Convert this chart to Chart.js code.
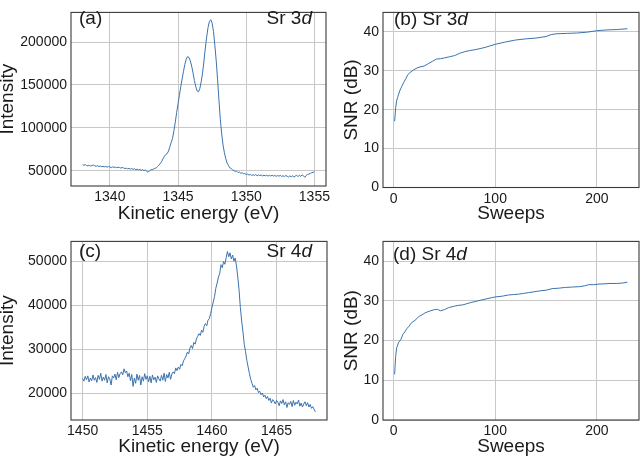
<!DOCTYPE html>
<html><head><meta charset="utf-8">
<script src="https://cdn.jsdelivr.net/npm/chart.js@4.4.1/dist/chart.umd.min.js"></script>
<style>
html,body{margin:0;padding:0;background:#fff;width:640px;height:458px;overflow:hidden;}
canvas{position:absolute;}
</style></head><body>
<canvas id="ca" width="340" height="229" style="left:0;top:0"></canvas>
<canvas id="cb" width="296" height="229" style="left:344px;top:0"></canvas>
<canvas id="cc" width="340" height="229" style="left:0;top:229px"></canvas>
<canvas id="cd" width="296" height="229" style="left:344px;top:229px"></canvas>
<script>
// ---------- data ----------
// (a) Sr 3d spectrum: kinetic energy from 1338.0 eV in 0.1 eV steps, intensity in thousands of counts
const energyStartA = 1338.0, energyStepA = 0.1;
const intensityA_k = [
 57.0,56.5,57.2,56.0,55.8,56.4,55.5,56.2,56.6,55.7,
 55.3,55.9,55.0,55.6,54.8,55.2,54.6,55.1,54.3,54.9,
 54.5,53.8,54.6,54.0,54.3,53.6,54.2,53.9,53.2,53.8,
 53.4,52.6,53.1,52.3,52.8,51.9,52.6,51.6,52.4,51.2,
 52.0,51.0,51.7,50.6,51.4,50.2,50.9,49.6,48.3,50.0,
 51.0,51.5,52.0,52.8,53.5,55.0,56.5,58.5,61.0,64.0,
 67.0,69.0,70.0,73.0,78.0,83.0,88.0,97.0,107.0,118.0,
 128.0,138.0,148.0,157.0,166.0,174.0,180.0,183.0,182.0,178.0,
 172.0,164.0,155.0,148.0,143.0,142.0,146.0,154.0,164.0,178.0,
 193.0,206.0,217.0,224.0,226.0,222.0,212.0,196.0,178.0,156.0,
 132.0,110.0,93.0,80.0,71.0,64.0,59.0,56.0,53.5,52.5,
 51.0,50.5,49.0,49.6,48.0,48.5,47.2,47.8,46.5,47.0,
 45.5,46.2,45.0,45.8,44.6,45.4,44.8,45.6,44.3,45.2,
 44.5,45.0,44.0,44.8,44.2,44.9,43.8,44.6,44.0,44.7,
 43.9,44.5,43.6,44.4,43.8,44.6,43.5,44.2,43.4,44.5,
 43.7,42.8,44.1,43.0,44.3,42.6,43.9,44.8,43.2,45.0,
 43.5,45.3,44.0,42.5,44.6,45.8,46.2,47.0,47.8,48.2,
 49.0
];
// (c) Sr 4d spectrum: kinetic energy from 1450.0 eV in 0.1 eV steps, intensity in thousands of counts
const energyStartC = 1450.0, energyStepC = 0.1;
const intensityC_k = [
 23.4,22.8,23.9,23.1,24.0,22.6,23.5,22.9,24.2,23.0,
 23.6,22.5,24.1,23.2,24.6,22.8,23.7,23.0,24.3,22.4,
 23.8,23.3,21.9,24.0,23.5,24.4,23.1,24.8,23.6,24.5,
 24.9,24.2,25.6,24.7,25.1,23.8,24.6,22.9,24.3,21.6,
 23.5,22.3,24.4,23.0,24.1,21.9,23.8,22.8,24.5,23.2,
 24.0,22.6,23.9,22.4,24.2,23.1,23.7,22.5,24.0,23.3,
 22.8,24.1,23.0,24.6,22.7,24.3,23.5,24.8,23.2,24.4,
 24.9,24.5,25.8,25.2,26.0,25.5,26.6,26.3,27.4,27.9,
 28.5,29.4,29.0,30.3,30.9,30.2,31.6,31.2,32.4,33.0,
 33.6,33.2,34.4,33.9,35.3,35.9,35.4,36.7,37.0,38.2,
 39.5,40.8,42.0,43.9,45.1,46.5,47.2,49.3,48.6,50.0,
 49.4,50.9,52.3,51.1,52.0,50.6,51.5,50.1,50.8,49.0,
 46.5,43.5,39.5,36.5,34.0,31.2,29.5,27.5,26.0,24.5,
 23.2,22.3,21.4,21.8,20.8,21.2,20.2,20.5,19.7,20.1,
 19.2,19.6,18.8,19.3,18.4,18.9,17.8,18.6,18.2,17.6,
 18.4,18.0,17.2,18.3,17.7,18.6,17.4,18.1,16.8,17.9,
 17.5,18.2,17.0,18.4,17.3,18.0,17.6,18.5,17.1,17.8,
 16.9,17.6,18.1,17.2,17.9,16.9,17.5,16.6,17.0,16.4,
 15.8
];
// (b) Sr 3d SNR vs sweeps
const sweepsB = [1,2,3,4,5,6,8,10,12,14,16,18,20,23,26,30,34,38,42,46,50,55,60,65,70,75,80,90,100,110,120,130,140,150,155,160,170,180,190,200,210,220,230];
const snrB    = [17.0,20.5,22.3,23.2,24.0,24.8,26.0,27.0,28.0,29.0,29.5,29.9,30.3,30.7,31.0,31.2,31.8,32.4,33.0,33.1,33.3,33.6,33.9,34.5,34.9,35.2,35.4,36.0,36.8,37.4,37.9,38.2,38.4,38.8,39.3,39.5,39.6,39.7,39.9,40.3,40.5,40.6,40.8];
// (d) Sr 4d SNR vs sweeps
const sweepsD = [1,2,3,5,7,9,11,13,15,18,21,25,28,31,35,40,43,46,50,54,60,64,68,72,76,81,86,91,96,100,107,113,118,123,128,133,138,143,150,156,162,169,176,183,188,192,197,202,207,212,219,225,230];
const snrD    = [11.5,16.0,18.2,19.6,20.2,21.5,22.2,23.0,23.6,24.6,25.1,26.1,26.5,27.0,27.4,27.8,27.9,27.5,27.8,28.3,28.7,28.9,29.0,29.3,29.6,29.9,30.2,30.5,30.8,31.0,31.2,31.5,31.6,31.7,31.9,32.1,32.3,32.5,32.7,33.1,33.2,33.4,33.5,33.6,33.8,34.1,34.1,34.25,34.3,34.4,34.4,34.5,34.7];
// tick labels
const ticksAx = [1340,1345,1350,1355];
const ticksAy = [50000,100000,150000,200000];
const ticksCx = [1450,1455,1460,1465];
const ticksCy = [20000,30000,40000,50000];
const ticksSweeps = [0,100,200];
const ticksSnr = [0,10,20,30,40];

// ---------- style ----------
const FONT = "'Liberation Sans', Arial, Helvetica, sans-serif";
const TEXT = '#1a1a1a';
const LINE = '#3b73ad';
const GRID = '#c8c8c8';
const SPINE = '#3a3a3a';

function spectrum(start, step, valsK){
  return valsK.map((v,i)=>({x: +(start + i*step).toFixed(2), y: v*1000}));
}
function pairs(xs, ys){ return xs.map((x,i)=>({x:x, y:ys[i]})); }

const framePlugin = {
  id:'frame',
  afterDatasetsDraw(chart){
    const {ctx, chartArea:a} = chart;
    ctx.save();
    ctx.strokeStyle = SPINE; ctx.lineWidth = 1.1;
    ctx.strokeRect(a.left, a.top, a.right-a.left, a.bottom-a.top);
    ctx.restore();
  }
};
const labelPlugin = {
  id:'panelLabels',
  afterDraw(chart, args, opts){
    const ctx = chart.ctx;
    ctx.save();
    ctx.fillStyle = TEXT;
    ctx.textBaseline = 'alphabetic';
    ctx.textAlign = 'left';
    (opts.items||[]).forEach(it=>{
      const fonts = it.parts.map(p=> (p[1]?'italic ':'') + '19px ' + FONT);
      let w = 0;
      it.parts.forEach((p,i)=>{ ctx.font = fonts[i]; w += ctx.measureText(p[0]).width; });
      let x = it.align === 'right' ? it.x - w : it.x;
      it.parts.forEach((p,i)=>{ ctx.font = fonts[i]; ctx.fillText(p[0], x, it.y); x += ctx.measureText(p[0]).width; });
    });
    ctx.restore();
  }
};

function makeChart(id, c){
  return new Chart(document.getElementById(id), {
    type:'line',
    data:{datasets:[{data:c.points, borderColor:LINE, borderWidth:1, pointRadius:0, tension:0, fill:false}]},
    options:{
      responsive:false, animation:false, events:[],
      layout:{padding:{left:0, right:c.padR, top:c.padT, bottom:0}},
      plugins:{legend:{display:false}, tooltip:{enabled:false}, panelLabels:{items:c.items}},
      scales:{
        x:{type:'linear', min:c.xMin, max:c.xMax,
          afterBuildTicks:s=>{ s.ticks = c.xTicks.map(v=>({value:v})); },
          afterFit:s=>{ s.height = c.xH; },
          grid:{color:GRID, lineWidth:1, drawTicks:false}, border:{display:false},
          ticks:{padding:3, color:TEXT, font:{family:FONT, size:14}, autoSkip:false, maxRotation:0, callback:v=>String(v)},
          title:{display:true, text:c.xTitle, color:TEXT, font:{family:FONT, size:19, lineHeight:1.2}, padding:{top:0, bottom:c.xTitlePad}}
        },
        y:{type:'linear', min:c.yMin, max:c.yMax,
          afterBuildTicks:s=>{ s.ticks = c.yTicks.map(v=>({value:v})); },
          afterFit:s=>{ s.width = c.yW; },
          grid:{color:GRID, lineWidth:1, drawTicks:false}, border:{display:false},
          ticks:{padding:4, color:TEXT, font:{family:FONT, size:14}, autoSkip:false, callback:v=>String(v)},
          title:{display:true, text:c.yTitle, color:TEXT, font:{family:FONT, size:19, lineHeight:0.85}, padding:{top:0, bottom:0}}
        }
      }
    },
    plugins:[framePlugin, labelPlugin]
  });
}

makeChart('ca', {
  points: spectrum(energyStartA, energyStepA, intensityA_k),
  xMin:1337.15, xMax:1355.85, yMin:32300, yMax:234500,
  xTicks:ticksAx, yTicks:ticksAy, xTitle:'Kinetic energy (eV)', yTitle:'Intensity',
  padR:14, padT:1, xH:43, yW:71, xTitlePad:4,
  items:[{x:79, y:24, align:'left', parts:[['(a)',false]]},
         {x:312, y:24, align:'right', parts:[['Sr 3',false],['d',true]]}]
});
makeChart('cb', {
  points: pairs(sweepsB, snrB),
  xMin:-10.45, xMax:241.45, yMin:0, yMax:45,
  xTicks:ticksSweeps, yTicks:ticksSnr, xTitle:'Sweeps', yTitle:'SNR (dB)',
  padR:1, padT:1, xH:41.5, yW:39, xTitlePad:4,
  items:[{x:50, y:24.5, align:'left', parts:[['(b) Sr 3',false],['d',true]]}]
});
makeChart('cc', {
  points: spectrum(energyStartC, energyStepC, intensityC_k),
  xMin:1449.1, xMax:1468.9, yMin:13950, yMax:54600,
  xTicks:ticksCx, yTicks:ticksCy, xTitle:'Kinetic energy (eV)', yTitle:'Intensity',
  padR:13, padT:3, xH:38, yW:71, xTitlePad:0,
  items:[{x:79, y:28, align:'left', parts:[['(c)',false]]},
         {x:312, y:28, align:'right', parts:[['Sr 4',false],['d',true]]}]
});
makeChart('cd', {
  points: pairs(sweepsD, snrD),
  xMin:-10.45, xMax:241.45, yMin:0, yMax:45,
  xTicks:ticksSweeps, yTicks:ticksSnr, xTitle:'Sweeps', yTitle:'SNR (dB)',
  padR:1, padT:4, xH:38, yW:39, xTitlePad:0,
  items:[{x:49, y:30.5, align:'left', parts:[['(d) Sr 4',false],['d',true]]}]
});
</script>
</body></html>
